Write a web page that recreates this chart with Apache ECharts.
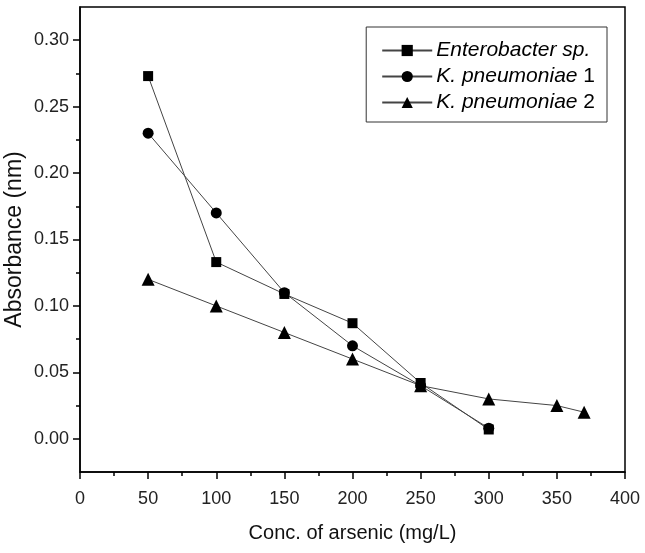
<!DOCTYPE html>
<html>
<head>
<meta charset="utf-8">
<script src="https://cdn.jsdelivr.net/npm/echarts@6/dist/echarts.min.js"></script>
<style>
html,body{margin:0;padding:0;background:#fff;}
#chart{width:645px;height:553px;}
</style>
</head>
<body>
<div id="chart"></div>
<script>
var xEntero = [50, 100, 150, 200, 250, 300];
var yEntero = [0.273, 0.133, 0.109, 0.087, 0.042, 0.007];
var xKp1 = [50, 100, 150, 200, 250, 300];
var yKp1 = [0.230, 0.170, 0.110, 0.070, 0.040, 0.008];
var xKp2 = [50, 100, 150, 200, 250, 300, 350, 370];
var yKp2 = [0.120, 0.100, 0.080, 0.060, 0.040, 0.030, 0.025, 0.020];
var seriesNames = ['Enterobacter sp.', 'K. pneumoniae 1', 'K. pneumoniae 2'];
var yMajorTicks = [0.00, 0.05, 0.10, 0.15, 0.20, 0.25, 0.30];
var yMinorTicks = [0.025, 0.075, 0.125, 0.175, 0.225, 0.275];
var xTicks = [0, 50, 100, 150, 200, 250, 300, 350, 400];

function pairs(xs, ys){ return xs.map(function(x,i){ return [x, ys[i]]; }); }

var FONT = '"Liberation Sans", Arial, sans-serif';
var chart = echarts.init(document.getElementById('chart'));
var lineStyle = {color:'#444', width:1};
function mkSeries(name, data, symbol, size){
  return {
    name:name, type:'line', data:data, symbol:symbol, symbolSize:size,
    itemStyle:{color:'#000', borderWidth:0}, lineStyle:lineStyle,
    emphasis:{disabled:true}, animation:false, z:3
  };
}
chart.setOption({
  animation:false,
  textStyle:{fontFamily:FONT},
  grid:{left:80, right:20, top:7, bottom:81, show:true, borderColor:'#000', borderWidth:1.5,
        backgroundColor:'transparent', containLabel:false, outerBoundsMode:'none'},
  legend:{
    orient:'vertical', right:38, top:27,
    padding:[13,12,9,15], itemGap:5, itemWidth:50, itemHeight:14,
    borderColor:'#333', borderWidth:1, backgroundColor:'#fff',
    data:seriesNames,
    formatter:function(n){
      if(n==='Enterobacter sp.') return '{i|Enterobacter sp.}';
      var parts = n.split(' ');
      return '{i|K. pneumoniae} {n|' + parts[2] + '}';
    },
    textStyle:{
      fontFamily:FONT, fontSize:21, color:'#000', padding:[0,0,0,-1],
      rich:{ i:{fontStyle:'italic', fontSize:21, fontFamily:FONT, color:'#000'},
             n:{fontSize:21, fontFamily:FONT, color:'#000'} }
    }
  },
  xAxis:{
    type:'value', min:0, max:400, interval:50,
    name:'Conc. of arsenic (mg/L)', nameLocation:'middle', nameGap:51, nameMoveOverlap:false,
    nameTextStyle:{fontSize:20, color:'#111', fontFamily:FONT},
    axisLine:{show:true, onZero:false, lineStyle:{color:'#000', width:1.5}},
    axisTick:{show:true, length:7, lineStyle:{color:'#000', width:1.5}},
    minorTick:{show:true, splitNumber:2, length:4, lineStyle:{color:'#000', width:1.5}},
    splitLine:{show:false},
    axisLabel:{fontSize:18, color:'#222', margin:18, fontFamily:FONT}
  },
  yAxis:[{
    type:'value', min:-0.025, max:0.325,
    name:'Absorbance (nm)', nameLocation:'middle', nameGap:54, nameMoveOverlap:false,
    nameTextStyle:{fontSize:23, color:'#111', fontFamily:FONT},
    axisLine:{show:true, onZero:false, lineStyle:{color:'#000', width:1.5}},
    axisTick:{show:true, length:7, customValues:yMajorTicks, lineStyle:{color:'#000', width:1.5}},
    axisLabel:{customValues:yMajorTicks, fontSize:18, color:'#222', margin:11, fontFamily:FONT,
      formatter:function(v){ return (Math.round(v*100)/100).toFixed(2); }},
    splitLine:{show:false}
  },{
    type:'value', min:-0.025, max:0.325, position:'left', offset:0,
    axisLine:{show:false, onZero:false},
    axisTick:{show:true, length:4, customValues:yMinorTicks, lineStyle:{color:'#000', width:1.5}},
    axisLabel:{show:false},
    splitLine:{show:false}
  }],
  series:[
    mkSeries(seriesNames[0], pairs(xEntero, yEntero), 'rect', 10),
    mkSeries(seriesNames[1], pairs(xKp1, yKp1), 'circle', 11),
    mkSeries(seriesNames[2], pairs(xKp2, yKp2), 'triangle', 13)
  ]
});
</script>
</body>
</html>
